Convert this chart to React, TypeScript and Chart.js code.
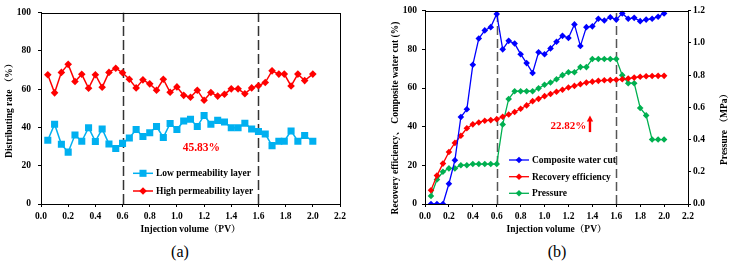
import React, { useEffect, useRef } from "react";
import { Chart, registerables } from "chart.js";

Chart.register(...registerables);

const FONT = '"Liberation Serif", "Times New Roman", "Noto Serif CJK SC", serif';

// ---------- Panel (a) data ----------
const pvA = [0.05, 0.1, 0.15, 0.2, 0.25, 0.3, 0.35, 0.4, 0.45, 0.5, 0.55, 0.6, 0.65, 0.7, 0.75, 0.8, 0.85, 0.9, 0.95, 1.0,
  1.05, 1.1, 1.15, 1.2, 1.25, 1.3, 1.35, 1.4, 1.45, 1.5, 1.55, 1.6, 1.65, 1.7, 1.75, 1.79, 1.84, 1.89, 1.94, 2.0];
const lowPerm = [33.3, 41.7, 31.2, 27.1, 36.1, 32.8, 39.9, 32.7, 39.2, 31.4, 29.0, 31.7, 34.5, 38.9, 35.3, 37.2, 40.5, 34.8, 42.1, 38.9,
  43.4, 44.3, 40.5, 46.3, 41.7, 43.7, 42.9, 39.9, 39.9, 42.2, 39.2, 37.9, 36.6, 30.5, 32.8, 32.8, 38.2, 32.8, 35.8, 32.8];
const highPerm = [67.6, 58.1, 68.8, 73.0, 64.0, 67.8, 60.5, 67.6, 61.0, 68.8, 71.0, 68.6, 65.2, 60.7, 64.9, 62.8, 59.5, 65.2, 58.4, 61.2,
  56.8, 55.8, 59.5, 54.2, 58.3, 56.4, 57.4, 60.2, 60.2, 57.6, 60.7, 61.8, 63.5, 69.6, 67.9, 67.9, 61.7, 67.9, 64.5, 67.9];

// ---------- Panel (b) data ----------
const pvB = [0.05, 0.1, 0.15, 0.2, 0.25, 0.3, 0.35, 0.4, 0.45, 0.5, 0.55, 0.6, 0.65, 0.7, 0.75, 0.8, 0.85, 0.9, 0.95, 1.0,
  1.05, 1.1, 1.15, 1.2, 1.25, 1.3, 1.35, 1.4, 1.45, 1.5, 1.55, 1.6, 1.65, 1.7, 1.75, 1.8, 1.85, 1.9, 1.95, 2.0];
const waterCut = [0, 0, 0, 10.5, 22.6, 45, 49, 72, 85.6, 89.8, 91.5, 98.3, 80, 84.4, 83, 77.5, 72.9, 67.8, 78.5, 77.5,
  80.5, 83.9, 87, 85.9, 92.9, 81.7, 91.5, 91.9, 95.8, 94.9, 96.6, 95.4, 98.6, 95.8, 96.3, 94.6, 95.4, 95.8, 96.9, 98.6];
const recovery = [7.1, 14.7, 20.9, 26.9, 31.6, 35.3, 39.2, 41.2, 42.2, 43.1, 43.4, 43.9, 45.1, 46.3, 47.6, 49.3, 51.0, 53.2, 54.4, 55.8,
  56.9, 58.1, 59.1, 60.3, 61.1, 62.0, 62.8, 63.3, 63.7, 64.0, 64.1, 64.3, 64.5, 64.9, 65.4, 65.8, 66.1, 66.2, 66.3, 66.3];
const pressure = [0.05, 0.152, 0.2, 0.221, 0.221, 0.241, 0.241, 0.248, 0.248, 0.248, 0.248, 0.248, 0.494, 0.652, 0.7, 0.7, 0.7, 0.7, 0.718, 0.74,
  0.754, 0.774, 0.8, 0.818, 0.818, 0.85, 0.85, 0.9, 0.9, 0.9, 0.9, 0.9, 0.8, 0.75, 0.75, 0.596, 0.55, 0.4, 0.4, 0.4];

// ---------- Axes / labels ----------
const xTicks = [0, 0.2, 0.4, 0.6, 0.8, 1.0, 1.2, 1.4, 1.6, 1.8, 2.0, 2.2];
const yTicksPct = [0, 20, 40, 60, 80, 100];
const yTicksMPa = [0, 0.2, 0.4, 0.6, 0.8, 1.0, 1.2];
const dividers = [0.6, 1.6];

const xTitle = "Injection volume（PV）";
const yTitleA = "Distributing rate （%）";
const yTitleB = "Recovery efficiency、 Composite water cut (%)";
const y2TitleB = "Pressure （MPa）";
const labelsA = ["Low permeability layer", "High permeability layer"];
const labelsB = ["Composite water cut", "Recovery efficiency", "Pressure"];
const noteA = "45.83%";
const noteB = "22.82%";

const tickFont = { family: FONT, size: 9.5, weight: "bold" as const };

function drawMarker(ctx: CanvasRenderingContext2D, style: string, x: number, y: number, r: number, color: string) {
  ctx.save();
  ctx.fillStyle = color;
  ctx.beginPath();
  if (style === "rect") {
    const s = r * Math.SQRT1_2;
    ctx.rect(x - s, y - s, 2 * s, 2 * s);
  } else {
    ctx.moveTo(x, y - r);
    ctx.lineTo(x + r, y);
    ctx.lineTo(x, y + r);
    ctx.lineTo(x - r, y);
    ctx.closePath();
  }
  ctx.fill();
  ctx.restore();
}

function makeDecor(opts: {
  dash: number[];
  dashColor: string;
  legend: { x: number; ys: number[] };
  note: { text: string; x: number; y: number; size: number };
  arrow?: { x: number; y0: number; y1: number };
  customTitles?: (ctx: CanvasRenderingContext2D, chart: any) => void;
}) {
  return {
    id: "decor",
    beforeDatasetsDraw(chart: any) {
      const { ctx, chartArea } = chart;
      const xs = chart.scales.x;
      ctx.save();
      ctx.strokeStyle = opts.dashColor;
      ctx.lineWidth = 1.5;
      ctx.setLineDash(opts.dash);
      dividers.forEach((v) => {
        const px = Math.round(xs.getPixelForValue(v)) + 0.5;
        ctx.beginPath();
        ctx.moveTo(px, chartArea.bottom);
        ctx.lineTo(px, chartArea.top);
        ctx.stroke();
      });
      ctx.restore();
    },
    afterDraw(chart: any) {
      const { ctx, chartArea } = chart;
      const xs = chart.scales.x;
      const ys = chart.scales.y;
      ctx.save();
      // frame
      ctx.strokeStyle = "#000";
      ctx.lineWidth = 1;
      ctx.strokeRect(Math.round(chartArea.left) + 0.5, Math.round(chartArea.top) + 0.5,
        Math.round(chartArea.right - chartArea.left), Math.round(chartArea.bottom - chartArea.top));
      // legend
      chart.data.datasets.forEach((ds: any, i: number) => {
        const y = opts.legend.ys[i];
        const x0 = opts.legend.x;
        ctx.strokeStyle = ds.borderColor;
        ctx.lineWidth = ds.borderWidth;
        ctx.beginPath();
        ctx.moveTo(x0, y);
        ctx.lineTo(x0 + 20, y);
        ctx.stroke();
        drawMarker(ctx, ds.pointStyle, x0 + 10, y, ds.pointRadius, ds.borderColor);
        ctx.fillStyle = "#000";
        ctx.font = `bold 9.5px ${FONT}`;
        ctx.textAlign = "left";
        ctx.textBaseline = "middle";
        ctx.fillText(ds.label, x0 + 23, y + 0.5);
      });
      // annotation
      ctx.fillStyle = "#FF0000";
      ctx.font = `bold ${opts.note.size}px ${FONT}`;
      ctx.textAlign = "center";
      ctx.textBaseline = "middle";
      ctx.fillText(opts.note.text, xs.getPixelForValue(opts.note.x), ys.getPixelForValue(opts.note.y));
      if (opts.arrow) {
        const ax = xs.getPixelForValue(opts.arrow.x);
        const yb = ys.getPixelForValue(opts.arrow.y0);
        const yt = ys.getPixelForValue(opts.arrow.y1);
        ctx.fillRect(ax - 1.2, yt + 5, 2.4, yb - yt - 5);
        ctx.beginPath();
        ctx.moveTo(ax, yt);
        ctx.lineTo(ax + 3.2, yt + 6);
        ctx.lineTo(ax - 3.2, yt + 6);
        ctx.closePath();
        ctx.fill();
      }
      if (opts.customTitles) opts.customTitles(ctx, chart);
      ctx.restore();
    },
  };
}

function axisCommon(ticks: number[], digits: number, pad: number) {
  return {
    type: "linear" as const,
    min: ticks[0],
    max: ticks[ticks.length - 1],
    afterBuildTicks: (s: any) => {
      s.ticks = ticks.map((v) => ({ value: v }));
    },
    grid: { display: true, drawOnChartArea: false, drawTicks: true, tickLength: 3, color: "#000" },
    border: { display: true, color: "#000", width: 1 },
    ticks: {
      color: "#000",
      font: tickFont,
      padding: pad,
      maxRotation: 0,
      autoSkip: false,
      callback: (v: any) => (digits > 0 ? Number(v).toFixed(digits) : String(v)),
    },
  };
}

function PanelA() {
  const ref = useRef<HTMLCanvasElement | null>(null);
  useEffect(() => {
    if (!ref.current) return;
    const chart = new Chart(ref.current, {
      type: "line",
      data: {
        datasets: [
          {
            label: labelsA[0],
            data: pvA.map((x, i) => ({ x, y: lowPerm[i] })),
            borderColor: "#00B0F0",
            backgroundColor: "#00B0F0",
            pointBackgroundColor: "#00B0F0",
            pointStyle: "rect",
            pointRadius: 5,
            pointBorderWidth: 0,
            borderWidth: 1.5,
            tension: 0,
          },
          {
            label: labelsA[1],
            data: pvA.map((x, i) => ({ x, y: highPerm[i] })),
            borderColor: "#FF0000",
            backgroundColor: "#FF0000",
            pointBackgroundColor: "#FF0000",
            pointStyle: "rectRot",
            pointRadius: 3.8,
            pointBorderWidth: 0,
            borderWidth: 1.5,
            tension: 0,
          },
        ],
      } as any,
      options: {
        animation: false,
        responsive: false,
        events: [],
        layout: { padding: { top: 7, right: 20, left: 0, bottom: 0 } },
        plugins: { legend: { display: false }, tooltip: { enabled: false } },
        scales: {
          x: {
            ...axisCommon(xTicks, 1, 4),
            afterFit: (s: any) => { s.height = 36; },
            title: { display: true, text: xTitle, color: "#000", font: tickFont, padding: { top: 0, bottom: 5 } },
          },
          y: {
            ...axisCommon(yTicksPct, 0, 7),
            afterFit: (s: any) => { s.width = 41; },
            title: { display: true, text: yTitleA, color: "#000", font: tickFont, padding: { top: 4, bottom: 0 } },
          },
        },
      } as any,
      plugins: [
        makeDecor({
          dash: [10, 4],
          dashColor: "#333333",
          legend: { x: 133, ys: [173.3, 191] },
          note: { text: noteA, x: 1.18, y: 29, size: 11.5 },
        }),
      ],
    });
    return () => chart.destroy();
  }, []);
  return <canvas ref={ref} width={360} height={240} style={{ position: "absolute", left: 0, top: 0 }} />;
}

function PanelB() {
  const ref = useRef<HTMLCanvasElement | null>(null);
  useEffect(() => {
    if (!ref.current) return;
    const mk = (label: string, ys: number[], color: string, axis: string) => ({
      label,
      data: pvB.map((x, i) => ({ x, y: ys[i] })),
      borderColor: color,
      backgroundColor: color,
      pointBackgroundColor: color,
      pointStyle: "rectRot",
      pointRadius: 3.3,
      pointBorderWidth: 0,
      borderWidth: 1.3,
      tension: 0,
      yAxisID: axis,
    });
    const chart = new Chart(ref.current, {
      type: "line",
      data: {
        datasets: [
          mk(labelsB[0], waterCut, "#0000FF", "y"),
          mk(labelsB[1], recovery, "#FF0000", "y"),
          mk(labelsB[2], pressure, "#00B050", "y1"),
        ],
      } as any,
      options: {
        animation: false,
        responsive: false,
        events: [],
        layout: { padding: { top: 7, right: 0, left: 0, bottom: 0 } },
        plugins: { legend: { display: false }, tooltip: { enabled: false } },
        scales: {
          x: {
            ...axisCommon(xTicks, 1, 4),
            afterFit: (s: any) => { s.height = 36; },
            title: { display: true, text: xTitle, color: "#000", font: tickFont, padding: { top: 0, bottom: 5 } },
          },
          y: {
            ...axisCommon(yTicksPct, 0, 5),
            position: "left",
            afterFit: (s: any) => { s.width = 60; },
          },
          y1: {
            ...axisCommon(yTicksMPa, 1, 2),
            position: "right",
            afterFit: (s: any) => { s.width = 43; },
          },
        },
      } as any,
      plugins: [
        makeDecor({
          dash: [9, 4],
          dashColor: "#555555",
          legend: { x: 144, ys: [160, 176.7, 193.3] },
          note: { text: noteB, x: 1.2, y: 40.5, size: 11 },
          arrow: { x: 1.38, y0: 37.2, y1: 45.8 },
          customTitles: (ctx) => {
            ctx.fillStyle = "#000";
            ctx.font = `bold 9.5px ${FONT}`;
            ctx.textAlign = "center";
            ctx.textBaseline = "middle";
            ctx.save();
            ctx.translate(31, 118);
            ctx.rotate(-Math.PI / 2);
            ctx.fillText(yTitleB, 0, 0);
            ctx.restore();
            ctx.save();
            ctx.translate(360, 127);
            ctx.rotate(-Math.PI / 2);
            ctx.fillText(y2TitleB, 0, 0);
            ctx.restore();
          },
        }),
      ],
    });
    return () => chart.destroy();
  }, []);
  return <canvas ref={ref} width={366} height={240} style={{ position: "absolute", left: 365, top: 0 }} />;
}

export default function App() {
  const lab: React.CSSProperties = {
    position: "absolute",
    top: 242,
    width: 40,
    textAlign: "center",
    fontFamily: FONT,
    fontSize: 16,
    lineHeight: "20px",
    color: "#000",
  };
  return (
    <div style={{ position: "fixed", left: 0, top: 0, width: 731, height: 262, background: "#fff", overflow: "hidden" }}>
      <PanelA />
      <PanelB />
      <div style={{ ...lab, left: 160 }}>(a)</div>
      <div style={{ ...lab, left: 537 }}>(b)</div>
    </div>
  );
}
